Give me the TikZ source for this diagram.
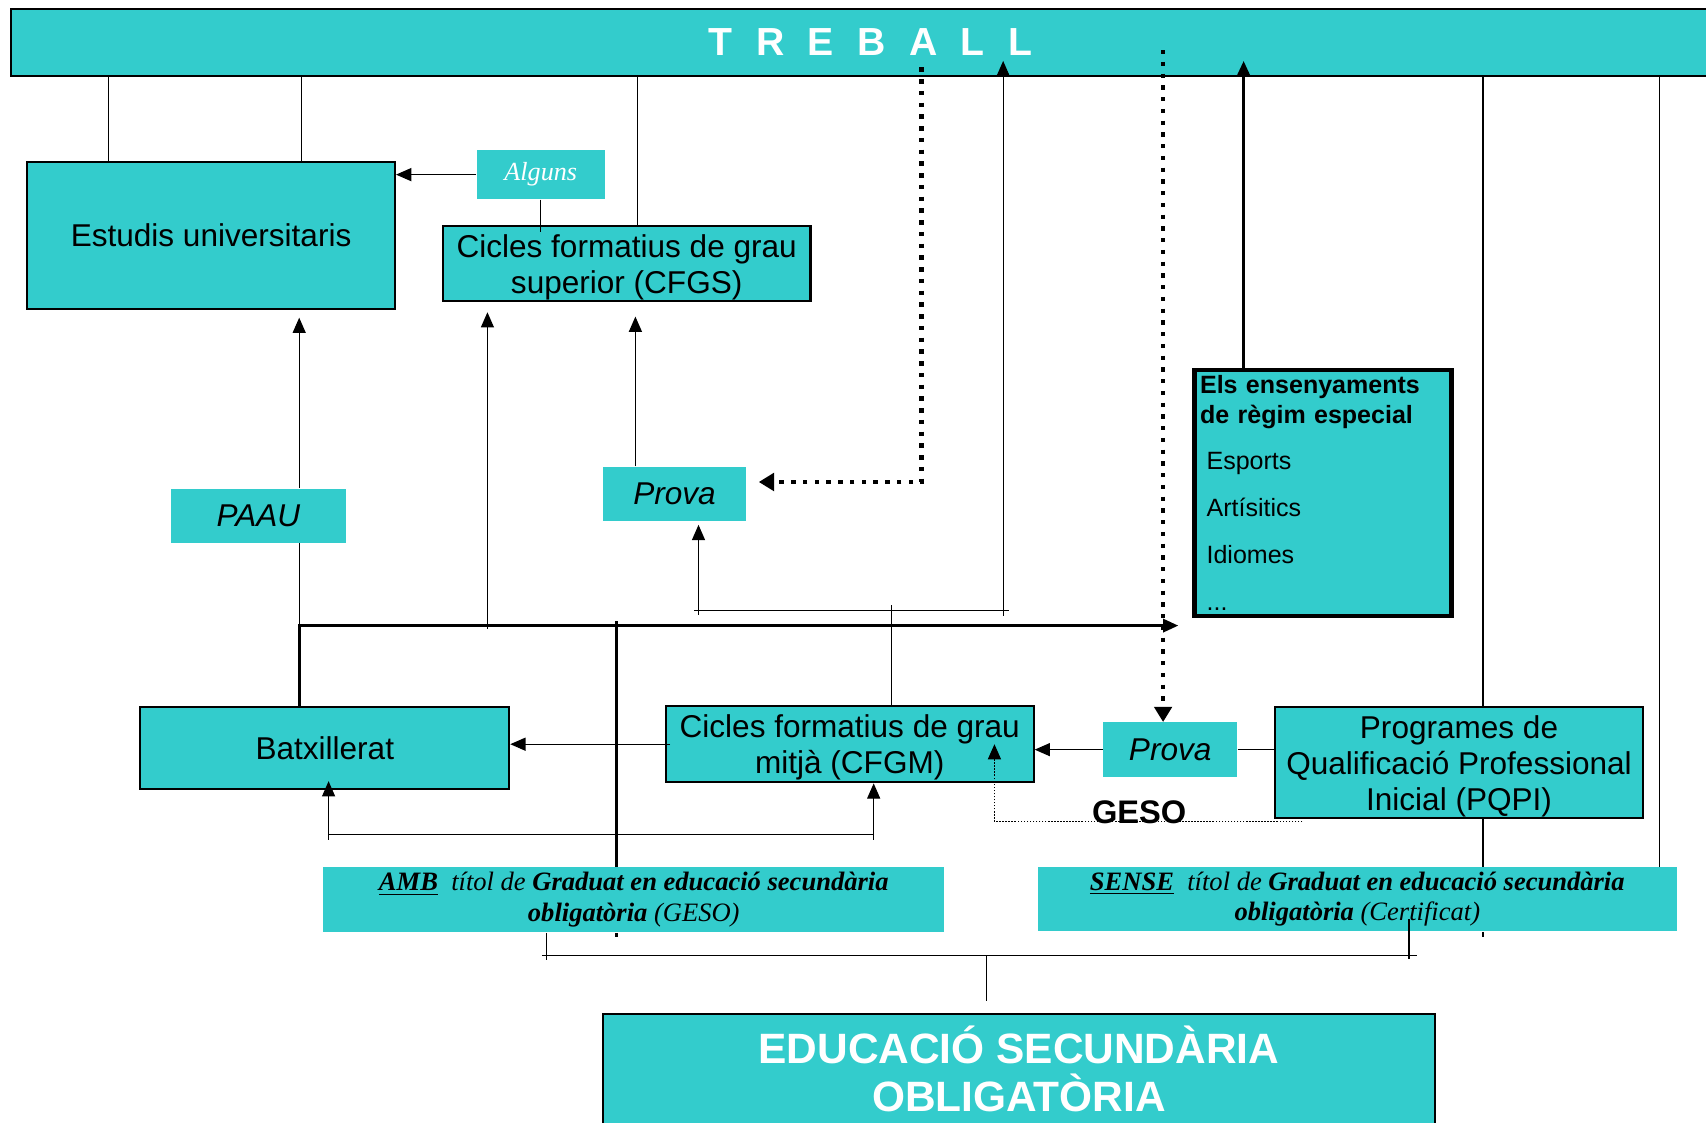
\documentclass[tikz,border=0pt]{standalone}
\usepackage{color}
\usepackage{xcolor}
\usepackage{fontspec}
\setmainfont{Liberation Serif}
\setsansfont{Liberation Sans}
\usepackage{tikz}
\usetikzlibrary{arrows.meta}
\definecolor{caixa}{RGB}{51,204,204}

\begin{document}
\begin{tikzpicture}[x=0.5pt,y=-0.5pt,
	box/.style={draw=black,line width=1pt,fill=caixa,inner sep=0pt,align=center,font=\sffamily\fontsize{14.5}{16.5}\selectfont},
	flat/.style={fill=caixa,inner sep=0pt,align=center},
	fin/.style={line width=0.5pt},
	gros/.style={line width=1.4pt},
	fletxa/.style={-{Triangle[length=7pt,width=6pt]}},
	fletxagran/.style={-{Triangle[length=7pt,width=8pt]}},
	punts/.style={line width=2.2pt,dash pattern=on 2pt off 3.4pt},
	puntet/.style={line width=0.7pt,dash pattern=on 0.7pt off 0.7pt}]
	\useasboundingbox (0,0) rectangle (1568,1032);
	\node[box,minimum width=790pt,minimum height=31pt] (treball) at (800,39)
		{\bfseries\fontsize{18}{20}\selectfont\color{white}\addfontfeature{LetterSpace=32}T R E B A L L};
	\node[box,minimum width=169pt,minimum height=67.5pt] (univ) at (194,216.5) {Estudis universitaris};
	\node[box,text depth=0pt,minimum width=169pt,minimum height=34.5pt] (cfgs) at (576,242.5) {Cicles formatius de grau\\superior (CFGS)};
	\node[flat,minimum width=59pt,minimum height=22.5pt,text=white,font=\rmfamily\itshape\fontsize{12}{14}\selectfont] (alguns) at (497,160.5) {Alguns};
	\node[flat,minimum width=80.5pt,minimum height=25pt,font=\sffamily\itshape\fontsize{14.5}{16.5}\selectfont] (paau) at (237.5,474) {PAAU};
	\node[flat,minimum width=66pt,minimum height=25pt,font=\sffamily\itshape\fontsize{14.5}{16.5}\selectfont] (prova1) at (620,454) {Prova};
	\node[box,line width=2pt,minimum width=118pt,minimum height=113pt,text width=113pt,align=left,font=\sffamily\fontsize{11.5}{13.5}\selectfont] (els) at (1216,453)
		{\textbf{Els ensenyaments}\\\textbf{de règim especial}\\[8pt]\hspace*{3pt}Esports\\[8pt]\hspace*{3pt}Artísitics\\[8pt]\hspace*{3pt}Idiomes\\[8pt]\hspace*{3pt}...};
	\node[box,minimum width=169.5pt,minimum height=37.5pt] (batx) at (298.5,687.5) {Batxillerat};
	\node[box,text depth=0pt,minimum width=169pt,minimum height=35pt] (cfgm) at (781,684) {Cicles formatius de grau\\mitjà (CFGM)};
	\node[flat,minimum width=61.5pt,minimum height=25pt,font=\sffamily\itshape\fontsize{14.5}{16.5}\selectfont] (prova2) at (1075.5,689) {Prova};
	\node[box,text depth=0pt,minimum width=169pt,minimum height=51pt] (pqpi) at (1341,701) {Programes de\\Qualificació Professional\\Inicial (PQPI)};
	\node[flat,minimum width=285.5pt,minimum height=30pt,font=\rmfamily\itshape\fontsize{12.2}{14}\selectfont] (amb) at (582.5,827)
		{\textbf{\underline{AMB}}\ \ títol de \textbf{Graduat en educació secundària}\\\textbf{obligatòria} (GESO)};
	\node[flat,minimum width=293.5pt,minimum height=29.5pt,font=\rmfamily\itshape\fontsize{12.2}{14}\selectfont] (sense) at (1247.5,826.5)
		{\textbf{\underline{SENSE}}\ \ títol de \textbf{Graduat en educació secundària}\\\textbf{obligatòria} (Certificat)};
	\node[box,minimum width=382.5pt,minimum height=54pt,text depth=4pt,text=white,font=\sffamily\bfseries\fontsize{19.5}{22}\selectfont] (eso) at (936.5,986)
		{EDUCACIÓ SECUNDÀRIA\\OBLIGATÒRIA};
	\node[inner sep=0pt,font=\sffamily\bfseries\fontsize{15}{17}\selectfont] (geso) at (1047,747) {GESO};

	\coordinate (pa) at (847,62);
	\coordinate (pb) at (1069,46);
	\coordinate (cap1) at (922,56);
	\coordinate (cap2) at (1143,56);
	\coordinate (eixE) at (275,575);
	\coordinate (eixD) at (1083,575);
	\coordinate (eixB) at (448,575);
	\coordinate (eixA) at (567,571);
	\coordinate (ambpeu) at (567,861);
	\coordinate (jm) at (819,561);
	\coordinate (jl) at (642,561);
	\coordinate (jr) at (922,561);
	\coordinate (bl) at (302,767);
	\coordinate (br) at (803,767);
	\coordinate (ga) at (1197,755);
	\coordinate (gb) at (914,755);
	\coordinate (sp) at (1363,861);
	\coordinate (ba) at (907,878);
	\coordinate (bal) at (498,878);
	\coordinate (bar) at (1302,878);
	\coordinate (cert) at (1295,845);

	\draw[fin] (treball.south -| 100,0) -- (univ.north -| 100,0);
	\draw[fin] (treball.south -| 277,0) -- (univ.north -| 277,0);
	\draw[fin] (treball.south -| 586,0) -- (cfgs.north -| 586,0);
	\draw[fin,fletxa] (alguns.west) -- (alguns.west -| univ.east);
	\draw[fin,shorten >=-3pt] (alguns.south) -- (alguns.south |- cfgs.north);
	\draw[punts,fletxagran,shorten >=5.5pt] (pa) |- ([yshift=5.5pt]prova1.east);
	\draw[punts,fletxagran] (pb) -- (prova2.north -| pb);
	\draw[gros,fletxa] (els.north -| cap2) -- (cap2);

	\draw[gros,fletxa] (batx.north -| eixE) |- (eixD);
	\draw[fin] (eixE) -- (paau.south -| eixE);
	\draw[fin,fletxa,shorten >=3.5pt] (paau.north -| eixE) -- (univ.south -| eixE);
	\draw[fin,fletxa,shorten <=-1.5pt,shorten >=4.5pt] (eixB) -- (cfgs.south -| eixB);
	\draw[fin,fletxa,shorten >=6.5pt] (prova1.north -| 584,0) -- (cfgs.south -| 584,0);
	\draw[gros] (eixA) -- (amb.north -| eixA);
	\draw[gros] (amb.south -| ambpeu) -- (ambpeu);

	\draw[fin,shorten >=-2.5pt] (cfgm.north -| jm) -- (jm);
	\draw[fin,shorten <=-2pt,shorten >=-2.5pt] (jl) -- (jr);
	\draw[fin,fletxa,shorten <=-2pt,shorten >=1.5pt] (jl) -- (prova1.south -| jl);
	\draw[fin,fletxa,shorten <=-2.5pt] (jr) -- (cap1);

	\draw[fin,fletxa,shorten <=-2.5pt] (cfgm.west) -- (cfgm.west -| batx.east);
	\draw[fin] (bl) -- (br);
	\draw[fin,fletxa,shorten <=-2.5pt,shorten >=-4pt] (bl) -- (batx.south -| bl);
	\draw[fin,fletxa,shorten <=-2.5pt] (br) -- (cfgm.south -| br);

	\draw[fin,fletxa] (prova2.west) -- (prova2.west -| cfgm.east);
	\draw[fin] (prova2.east) -- (prova2.east -| pqpi.west);
	\draw[puntet,fletxa] (ga) -| (cfgm.center -| gb);

	\draw[fin] (treball.south -| 1363,0) -- (pqpi.north -| 1363,0);
	\draw[fin] (pqpi.south -| 1363,0) -- (sense.north -| 1363,0);
	\draw[fin] (sense.south -| sp) -- (sp);
	\draw[fin] (treball.south -| 1525,0) -- (sense.north -| 1525,0);

	\draw[fin] (bal) -- (bar);
	\draw[fin,shorten >=5.5pt] (ba) -- (eso.north -| ba);
	\draw[fin,shorten >=-2pt] (amb.south -| 502,0) -- (ba -| 502,0);
	\draw[fin,shorten >=-1.5pt] (cert) -- (cert |- ba);
\end{tikzpicture}
\end{document}
